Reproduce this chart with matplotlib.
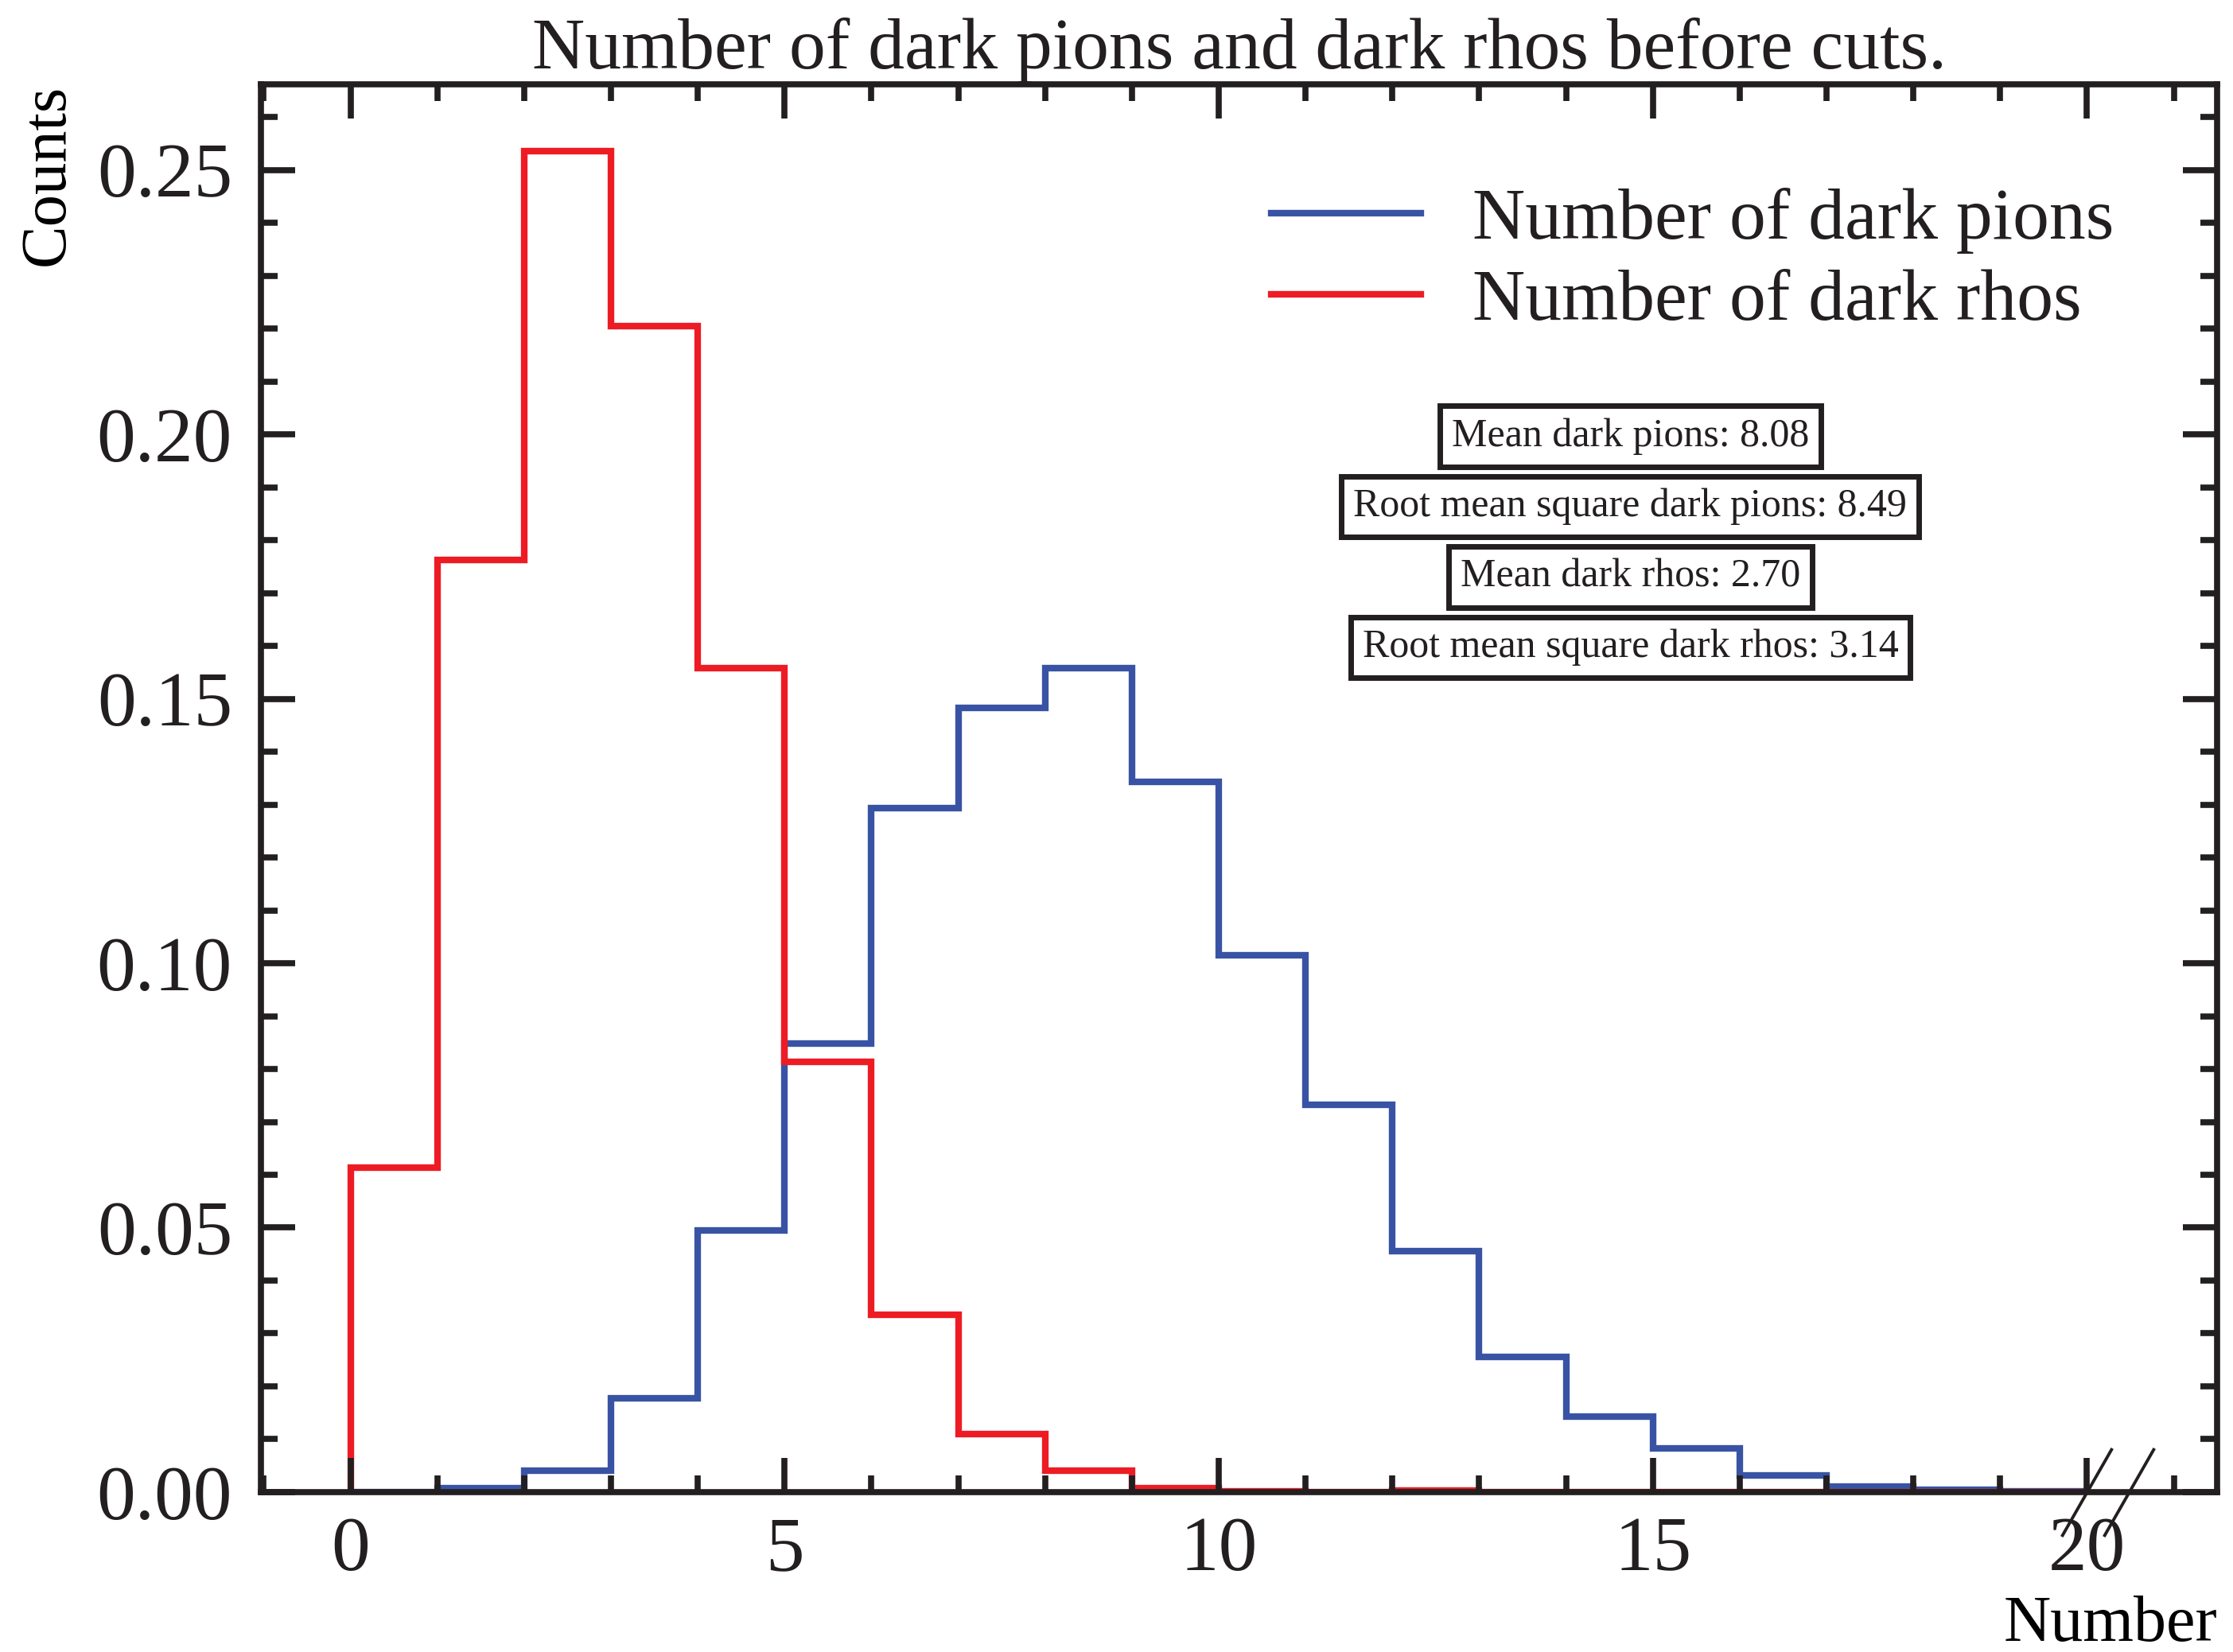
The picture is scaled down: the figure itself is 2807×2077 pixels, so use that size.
import numpy as np
import matplotlib
matplotlib.use("Agg")
import matplotlib.pyplot as plt
from matplotlib.ticker import MultipleLocator, FormatStrFormatter

# bin edges (integer multiplicities) and normalised bin contents
edges = np.arange(0, 21)
pions = [0.0, 0.0008, 0.0040, 0.0178, 0.0495, 0.0848, 0.1294, 0.1483, 0.1558, 0.1343,
         0.1015, 0.0732, 0.0455, 0.0256, 0.0143, 0.0082, 0.0032, 0.0011, 0.0004, 0.0002]
rhos = [0.0614, 0.1763, 0.2535, 0.2204, 0.1558, 0.0813, 0.0336, 0.0110, 0.0040, 0.0008,
        0.0001, 0.0, 0.0003, 0.0, 0.0, 0.0, 0.0, 0.0, 0.0, 0.0]
labels = ["Number of dark pions", "Number of dark rhos"]
stats = ["Mean dark pions: 8.08", "Root mean square dark pions: 8.49",
         "Mean dark rhos: 2.70", "Root mean square dark rhos: 3.14"]
break_x = [20.0, 20.48]

INK = "#231f20"
BLUE = "#3953a4"
RED = "#ed1c24"

plt.rcParams["font.family"] = ["Liberation Serif", "DejaVu Serif"]
plt.rcParams["text.color"] = INK
plt.rcParams["axes.edgecolor"] = INK

fig = plt.figure(figsize=(28.07, 20.77), dpi=100)
ax = fig.add_axes([0.1169, 0.0968, 0.9929 - 0.1169, 0.949 - 0.0968])

ax.stairs(pions, edges, color=BLUE, lw=6, baseline=0, label=labels[0])
ax.stairs(rhos, edges, color=RED, lw=6, baseline=0, label=labels[1])

ax.set_xlim(-1.03, 21.5)
ax.set_ylim(0, 0.2662)

ax.xaxis.set_major_locator(MultipleLocator(5))
ax.xaxis.set_minor_locator(MultipleLocator(1))
ax.yaxis.set_major_locator(MultipleLocator(0.05))
ax.yaxis.set_minor_locator(MultipleLocator(0.01))
ax.yaxis.set_major_formatter(FormatStrFormatter("%.2f"))

ax.tick_params(which="both", direction="in", top=True, right=True, colors=INK,
               labelsize=70, width=5.5)
ax.tick_params(which="major", length=31, pad=22)
ax.tick_params(axis="y", which="major", pad=26)
ax.tick_params(which="minor", length=15)
for s in ax.spines.values():
    s.set_linewidth(5.5)

ax.set_title("Number of dark pions and dark rhos before cuts.", fontsize=66, pad=14)
ax.set_ylabel("Counts", fontsize=58, loc="top")
ax.yaxis.set_label_coords(-0.094, 1.0)
ax.set_xlabel("Number", fontsize=59, loc="right")
ax.xaxis.set_label_coords(1.0, -0.073)

ax.legend(loc="upper right", frameon=False, fontsize=66, handlelength=2.05,
          handletextpad=0.7, labelspacing=0.2, borderaxespad=1.02)

for i, s in enumerate(stats):
    ax.text(0.70, 0.75 - 0.05 * i, s, transform=ax.transAxes, ha="center", va="center",
            fontsize=36, bbox=dict(boxstyle="square,pad=0.3", fc="white", ec=INK, lw=5))

# axis-break marks on the x axis
ax.plot(break_x, [0, 0], ls="none", marker=[(-1, -1.75), (1, 1.75)], markersize=80,
        mec=INK, mew=2.8, clip_on=False, zorder=5)

fig.savefig("out.png", dpi=100, facecolor="white")
